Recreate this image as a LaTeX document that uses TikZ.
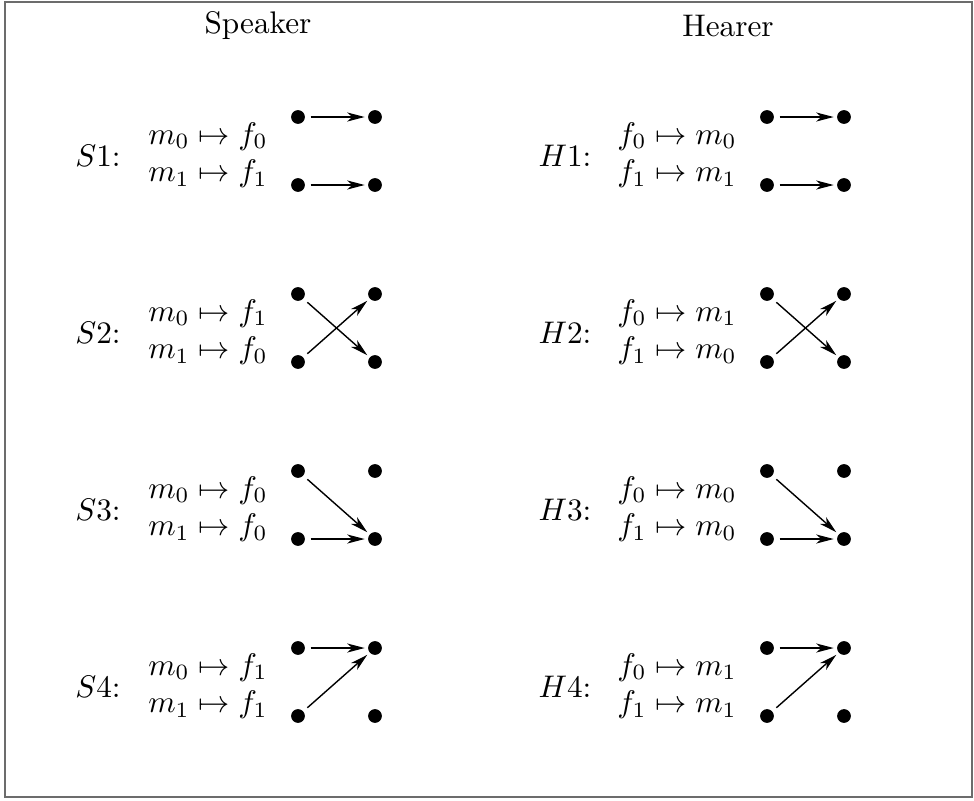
\documentclass[tikz,border=0pt]{standalone}
\usetikzlibrary{arrows.meta}

\begin{document}
\begin{tikzpicture}[
    x=0.32pt, y=-0.32pt,
    dot/.style={circle, fill, inner sep=0pt, minimum size=4.4pt},
    map/.style={-{Stealth[length=5.6pt, width=2.9pt, inset=1.6pt]}, line width=0.45pt, shorten <=1.6pt, shorten >=0.9pt},
    maps/.style={align=left, inner sep=0pt}
  ]
  \useasboundingbox (0,0) rectangle (974,800);
  \draw[gray!85!black, line width=0.9pt] (5,2) rectangle (972,797);

  \node (spk) at (258,26) {Speaker};
  \node (hrr) at (728,26) {Hearer};

  % dots: a = top left, b = bottom left, c = top right, d = bottom right
  \foreach \i/\y in {1/151, 2/328, 3/505, 4/682} {
    \node[dot] (s\i a) at (298,\y-34) {};
    \node[dot] (s\i b) at (298,\y+34) {};
    \node[dot] (s\i c) at (375,\y-34) {};
    \node[dot] (s\i d) at (375,\y+34) {};
    \node[dot] (h\i a) at (767,\y-34) {};
    \node[dot] (h\i b) at (767,\y+34) {};
    \node[dot] (h\i c) at (844,\y-34) {};
    \node[dot] (h\i d) at (844,\y+34) {};
    \node (sl\i) at (98,\y+5) {$S\i$:};
    \node (hl\i) at (565,\y+5) {$H\i$:};
  }

  \foreach \i/\y/\sa/\sb/\ha/\hb in {1/151/0/1/0/1, 2/328/1/0/1/0, 3/505/0/0/0/0, 4/682/1/1/1/1} {
    \node[maps] (sm\i) at (208,\y+4) {$m_0 \mapsto f_\sa$\\$m_1 \mapsto f_\sb$};
    \node[maps] (hm\i) at (677,\y+4) {$f_0 \mapsto m_\ha$\\$f_1 \mapsto m_\hb$};
  }

  \foreach \p in {s, h} {
    \draw[map] (\p1a) -- (\p1c);
    \draw[map] (\p1b) -- (\p1d);
    \draw[map] (\p2a) -- (\p2d);
    \draw[map] (\p2b) -- (\p2c);
    \draw[map] (\p3a) -- (\p3d);
    \draw[map] (\p3b) -- (\p3d);
    \draw[map] (\p4a) -- (\p4c);
    \draw[map] (\p4b) -- (\p4c);
  }
\end{tikzpicture}
\end{document}
